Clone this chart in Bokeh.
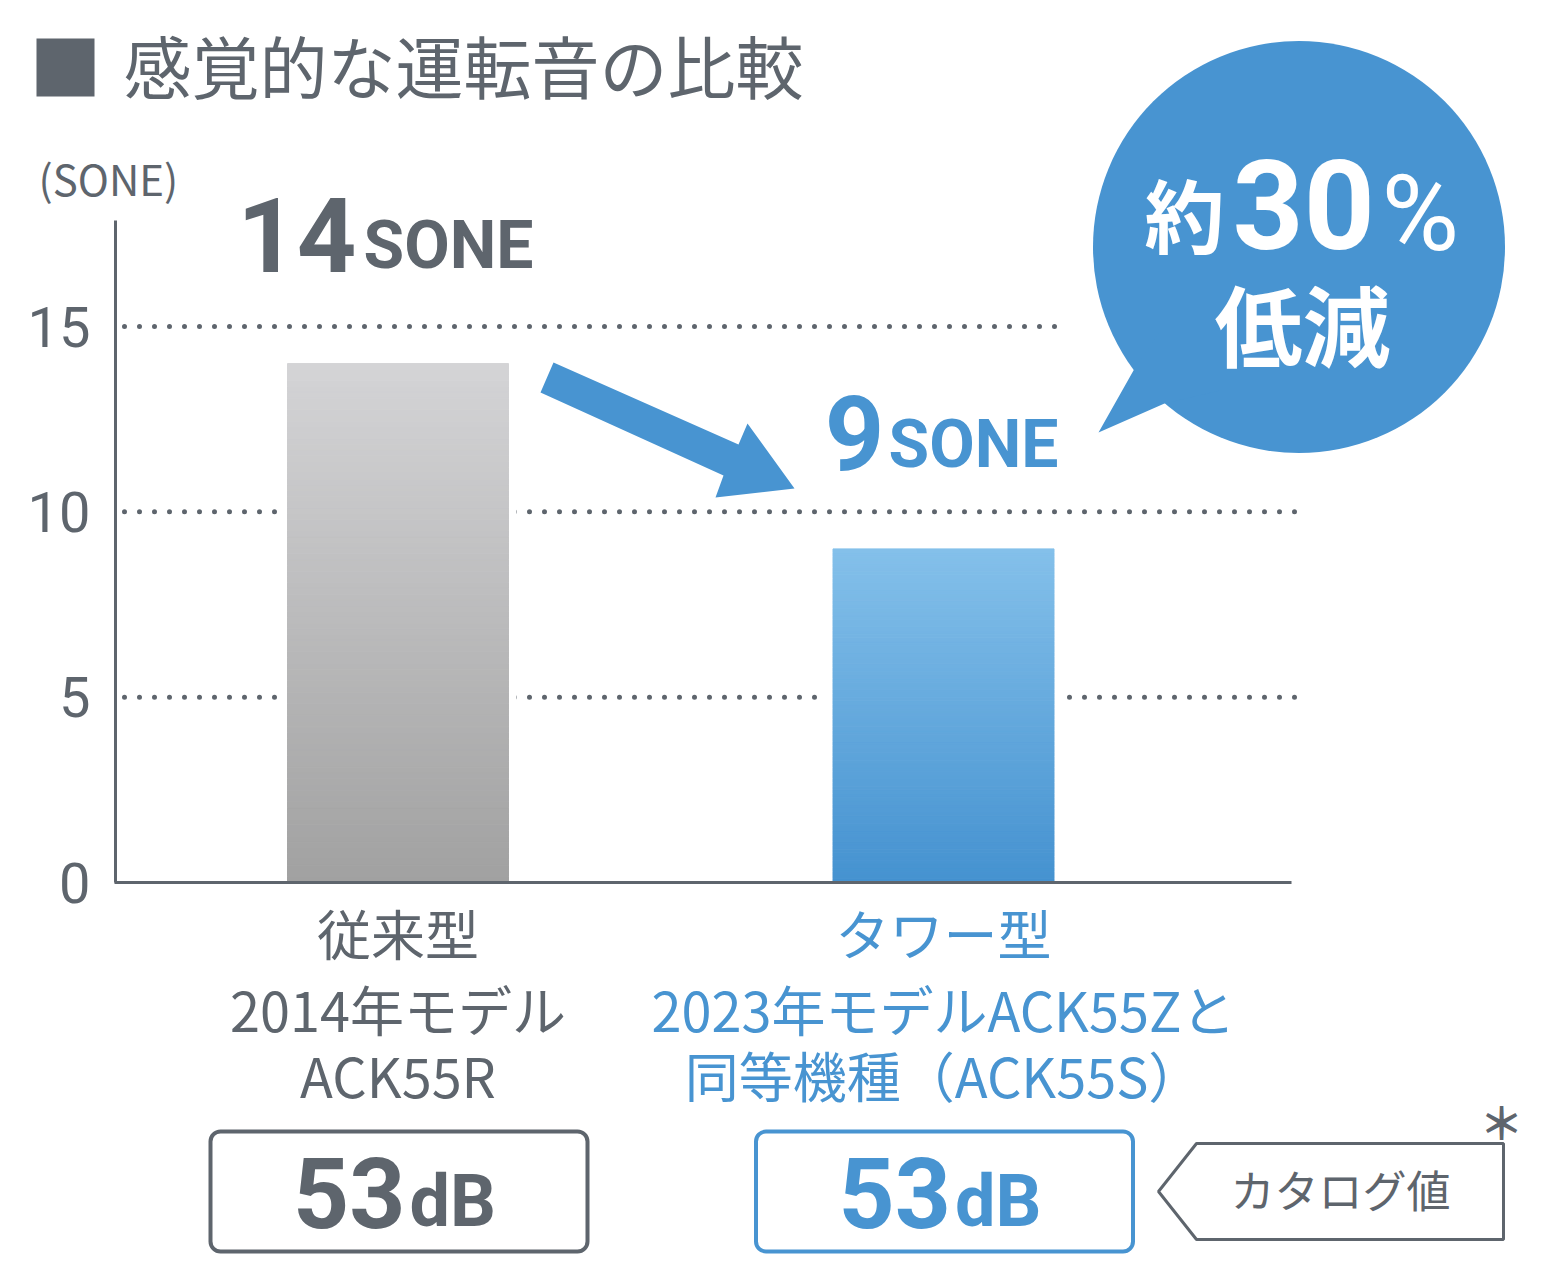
import numpy as np
from bokeh.plotting import figure
from bokeh.models import Range1d, LinearAxis, FixedTicker
from bokeh.core.properties import value
from bokeh.embed import file_html
from bokeh.resources import INLINE

# ---------------- data ----------------
title = "感覚的な運転音の比較"
unit_label = "(SONE)"
categories = ["従来型", "タワー型"]
category_lines = [
    ["従来型", "2014年モデル", "ACK55R"],
    ["タワー型", "2023年モデルACK55Zと", "同等機種（ACK55S）"],
]
sone_values = [14, 9]
sone_unit = "SONE"
db_values = [53, 53]
db_unit = "dB"
y_ticks = [0, 5, 10, 15]
reduction_prefix = "約"
reduction_value = "30"
reduction_pct = "%"
reduction_word = "低減"
catalog_label = "カタログ値"
catalog_mark = "＊"

# ---------------- styles / layout ----------------
GRAY = "#5e656d"
BLUE = "#4894d1"
BAR_GRAD = [("#a1a1a1", "#d4d4d6"), ("#4592d0", "#84c0ea")]  # bottom, top
TEXT_COL = [GRAY, BLUE]
JP = "Noto Sans CJK JP"
NUM = "Roboto"

W, H = 1525, 1269
OFF = 0
Y0_IMG = 882.0
PXY = (882.0 - 326.0) / 15.0
X1_IMG = 397.5
PXX = 943.0 - 397.5


def xd(ix):
    return 1 + (ix - X1_IMG) / PXX


def yd(iy):
    return (Y0_IMG - iy) / PXY


def dx(px):
    return px / PXX


def dy(px):
    return px / PXY


p = figure(width=W, height=H,
           x_range=Range1d(xd(OFF), xd(OFF + W)),
           y_range=Range1d(yd(OFF + H), yd(OFF)),
           x_axis_type=None, y_axis_type=None,
           toolbar_location=None, output_backend="svg",
           min_border=0, outline_line_color=None)
p.background_fill_color = "white"
p.border_fill_color = "white"

cat_x = [i + 1 for i in range(len(categories))]
bar_half = dx(221) / 2

# dotted gridlines
grid_ticks = [t for t in y_ticks if t > 0]
grid_end_img = {5: 1295, 10: 1295, 15: 1057}
p.segment(x0=[xd(124)] * len(grid_ticks), y0=grid_ticks,
          x1=[xd(grid_end_img[t]) for t in grid_ticks], y1=grid_ticks,
          line_color=GRAY, line_width=5, line_dash="0 15", line_cap="round")

# white masks behind bars
pad = dx(8)
p.quad(left=[c - bar_half - pad for c in cat_x], right=[c + bar_half + pad for c in cat_x],
       bottom=[0] * len(cat_x), top=[v + dy(6) for v in sone_values],
       fill_color="white", line_color=None)


def lerp_hex(c0, c1, t):
    a = np.array([int(c0[i:i + 2], 16) for i in (1, 3, 5)], float)
    b = np.array([int(c1[i:i + 2], 16) for i in (1, 3, 5)], float)
    c = a + (b - a) * t
    return "#%02x%02x%02x" % tuple(int(round(v)) for v in c)


# gradient bars
N = 90
for c, v, (cb, ct) in zip(cat_x, sone_values, BAR_GRAD):
    edges = np.linspace(0, v, N + 1)
    cols = [lerp_hex(cb, ct, (k + 0.5) / N) for k in range(N)]
    p.quad(left=[c - bar_half] * N, right=[c + bar_half] * N,
           bottom=edges[:-1], top=edges[1:],
           fill_color=cols, line_color=cols, line_width=1)

# axes
yaxis = LinearAxis(fixed_location=xd(115), bounds=(0, yd(220)),
                   ticker=FixedTicker(ticks=y_ticks),
                   axis_line_color=GRAY, axis_line_width=3,
                   major_tick_line_color=None, minor_tick_line_color=None,
                   major_tick_out=0, major_tick_in=0,
                   major_label_standoff=25,
                   major_label_text_font=NUM,
                   major_label_text_font_size="56px",
                   major_label_text_color=GRAY)
p.add_layout(yaxis, "left")
xaxis = LinearAxis(fixed_location=0, bounds=(xd(114), xd(1291)),
                   ticker=FixedTicker(ticks=[]),
                   axis_line_color=GRAY, axis_line_width=3,
                   major_tick_line_color=None, minor_tick_line_color=None,
                   major_label_text_font_size="0px")
p.add_layout(xaxis, "below")

# arrow
arrow_pts = [(553, 362), (738, 444), (747, 423), (794, 488), (715, 497), (723, 475), (540, 392)]
p.patch(x=[xd(a) for a, b in arrow_pts], y=[yd(b) for a, b in arrow_pts],
        fill_color=BLUE, line_color=None)

# speech bubble
p.circle(x=[xd(1298.5)], y=[yd(246.5)], radius=206, radius_units="screen",
         fill_color=BLUE, line_color=None)
tail = [(1160, 330), (1133, 370), (1098, 432), (1164, 403), (1220, 390)]
p.patch(x=[xd(a) for a, b in tail], y=[yd(b) for a, b in tail],
        fill_color=BLUE, line_color=None)


def txt(ix, iy, s, size, color, font=JP, bold=False, align="left", baseline="middle"):
    p.text(x=[xd(ix)], y=[yd(iy)], text=[s], text_font=value(font),
           text_font_size=value(f"{size}px"),
           text_font_style="bold" if bold else "normal",
           text_color=color, text_align=align, text_baseline=baseline)


txt(1224, 211, reduction_prefix, 80, "white", bold=True, align="right")
txt(1232, 204, reduction_value, 124, "white", font=NUM, bold=True)
txt(1381, 213, reduction_pct, 106, "white", font=NUM)
txt(1302, 321, reduction_word, 88, "white", bold=True, align="center")

# title
p.quad(left=[xd(36)], right=[xd(94)], bottom=[yd(96)], top=[yd(38)],
       fill_color=GRAY, line_color=None)
txt(123, 64, title, 68, GRAY)
txt(38, 177, unit_label, 42, GRAY)

# value labels above bars (visual centres above bar top, px)
split_off = [-37.5, -58]
num_gap = [4, 1]
num_c_off = [129, 116]
unit_c_off = [118, 104]
for c, v, so, ng, nco, uco, col in zip(cat_x, sone_values, split_off, num_gap,
                                       num_c_off, unit_c_off, TEXT_COL):
    p.text(x=[c + dx(so - ng)], y=[v + dy(nco)], text=[str(v)], text_font=value(NUM),
           text_font_size=value("104px"), text_font_style="bold", text_color=col,
           text_align="right", text_baseline="middle")
    p.text(x=[c + dx(so + 3)], y=[v + dy(uco)], text=[sone_unit], text_font=value(NUM),
           text_font_size=value("66px"), text_font_style="bold", text_color=col,
           text_align="left", text_baseline="middle")

# category labels
line_centers = [932, 1008, 1074]
for c, lines, col in zip(cat_x, category_lines, TEXT_COL):
    for ln, yc in zip(lines, line_centers):
        p.text(x=[c], y=[yd(yc)], text=[ln], text_font=value(JP),
               text_font_size=value("54px"), text_color=col,
               text_align="center", text_baseline="middle")

# dB boxes
box_half = dx(188.5)
p.quad(left=[c + dx(1) - box_half for c in cat_x], right=[c + dx(1) + box_half for c in cat_x],
       top=[yd(1131)] * len(cat_x), bottom=[yd(1251)] * len(cat_x),
       border_radius=10, fill_color="white", line_color=TEXT_COL, line_width=4)
for c, d, col in zip(cat_x, db_values, TEXT_COL):
    p.text(x=[c + dx(7.5)], y=[yd(1192)], text=[str(d)], text_font=value(NUM),
           text_font_size=value("98px"), text_font_style="bold", text_color=col,
           text_align="right", text_baseline="middle")
    p.text(x=[c + dx(11.5)], y=[yd(1201)], text=[db_unit], text_font=value(NUM),
           text_font_size=value("72px"), text_font_style="bold", text_color=col,
           text_align="left", text_baseline="middle")

# catalog tag
tag = [(1158, 1191), (1196, 1143), (1503, 1143), (1503, 1239), (1196, 1239)]
p.patch(x=[xd(a) for a, b in tag], y=[yd(b) for a, b in tag],
        fill_color="white", line_color=GRAY, line_width=3)
txt(1340, 1188, catalog_label, 44, GRAY, align="center")
txt(1501, 1120, catalog_mark, 44, GRAY, bold=True, align="center")

open("out.html", "w").write(file_html(p, INLINE))
